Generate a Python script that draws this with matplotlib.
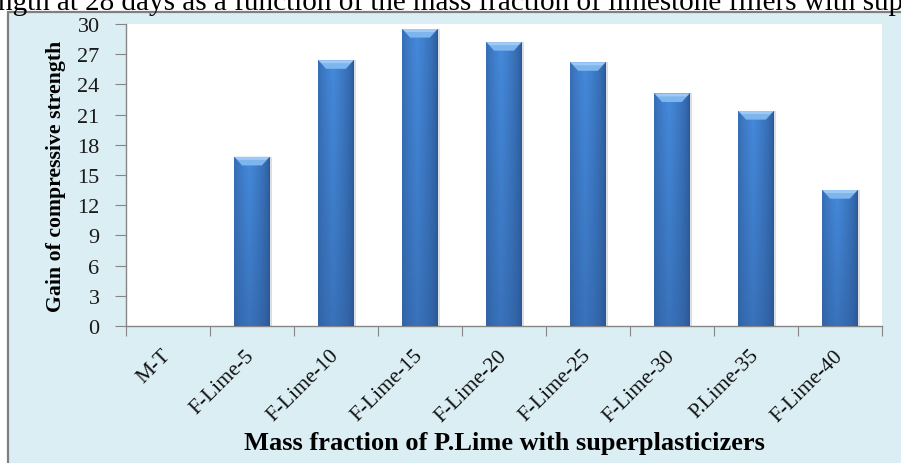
import matplotlib
matplotlib.use("Agg")
import matplotlib.pyplot as plt
import numpy as np
from matplotlib.patches import Rectangle, Polygon

categories = ["M-T", "F-Lime-5", "F-Lime-10", "F-Lime-15", "F-Lime-20",
              "F-Lime-25", "F-Lime-30", "P.Lime-35", "F-Lime-40"]
gain = [0.0, 16.8, 26.4, 29.5, 28.2, 26.2, 23.1, 21.35, 13.5]
yticks = list(range(0, 31, 3))

caption = "ngth at 28 days as a function of the mass fraction of limestone fillers with sup"
xlabel = "Mass fraction of P.Lime with superplasticizers"
ylabel = "Gain of compressive strength"

serif = ["Liberation Serif", "DejaVu Serif"]

W, H = 901, 464
fig = plt.figure(figsize=(W / 100, H / 100), dpi=100, facecolor="white")

# chart frame (light blue box with gray border, partly outside the page)
bg = fig.add_axes([0, 0, 1, 1], zorder=0)
bg.set_xlim(0, W)
bg.set_ylim(H, 0)
bg.axis("off")
bg.add_patch(Rectangle((8, 13), W + 20, H + 20, facecolor="#dbeef4",
                       edgecolor="#7f7f7f", lw=1.6))

fig.text(-2 / W, 1 - 9.5 / H, caption, family=serif, fontsize=21,
         ha="left", va="baseline", color="black")

ax = fig.add_axes([126 / W, 1 - 327 / H, (882 - 126) / W, (327 - 25) / H],
                  zorder=1)
ax.set_facecolor("white")

x = np.arange(len(categories))
bw = 0.42
bars = ax.bar(x, gain, width=bw, color="#3b78c4", zorder=2)

# shaded fill for each bar: darker sides, darker toward the base
nx, ny = 60, 200
u = np.linspace(0, 1, nx)
v = np.linspace(0, 1, ny)[:, None]
side = np.clip(1 - np.abs(u - 0.42) / 0.58, 0, 1) ** 0.6
light = np.array([0.27, 0.54, 0.86])
dark = np.array([0.17, 0.34, 0.58])
for rect, val in zip(bars, gain):
    if val <= 0:
        continue
    x0 = rect.get_x()
    w = rect.get_width()
    t = (side[None, :] * (0.55 + 0.45 * v))[..., None]
    img = dark + (light - dark) * t
    im = ax.imshow(img, extent=(x0, x0 + w, 0, val), origin="lower",
                   aspect="auto", zorder=3, interpolation="bilinear")
    im.set_clip_path(rect)
    # soft shadow on the right
    ax.add_patch(Rectangle((x0 + w, 0), 0.025, val, facecolor="#9aa3ad",
                           alpha=0.35, lw=0, zorder=1))
    # bevelled top cap
    cap = 0.85
    ax.add_patch(Polygon([(x0, val), (x0 + w, val), (x0 + w * 0.78, val - cap),
                          (x0 + w * 0.22, val - cap)], closed=True,
                         facecolor="#7db5ee", edgecolor="none", zorder=4))
    ax.add_patch(Polygon([(x0, val), (x0 + w, val), (x0 + w * 0.9, val - cap * 0.35),
                          (x0 + w * 0.1, val - cap * 0.35)], closed=True,
                         facecolor="#9fcaf5", edgecolor="none", zorder=4))

ax.set_xlim(-0.5, len(categories) - 0.5)
ax.set_ylim(0, 30)
ax.set_yticks(yticks)
ax.set_yticklabels([str(t) for t in yticks], family=serif, fontsize=16,
                   color="#1a1a1a")
ax.set_xticks(np.arange(-0.5, len(categories)), minor=False)
ax.set_xticklabels([])
ax.set_xticks(x, minor=True)
ax.set_xticklabels(categories, minor=True, rotation=45, ha="right",
                   va="center", rotation_mode="anchor", family=serif,
                   fontsize=15.5, color="#111111")
ax.tick_params(axis="x", which="minor", length=0, pad=19)
ax.tick_params(axis="x", which="major", length=7, color="#868686")
ax.tick_params(axis="y", length=8, color="#868686", pad=11)

for s in ["top", "right"]:
    ax.spines[s].set_visible(False)
for s in ["left", "bottom"]:
    ax.spines[s].set_color("#868686")
    ax.spines[s].set_linewidth(1.0)

fig.text(504 / W, 1 - 450 / H, xlabel, family=serif, fontsize=19,
         fontweight="bold", ha="center", va="baseline", zorder=2)
fig.text(56 / W, 1 - 176 / H, ylabel, family=serif, fontsize=15.7,
         fontweight="bold", ha="center", va="center", rotation=90, zorder=2)

fig.savefig("out.png", dpi=100, facecolor="white")
